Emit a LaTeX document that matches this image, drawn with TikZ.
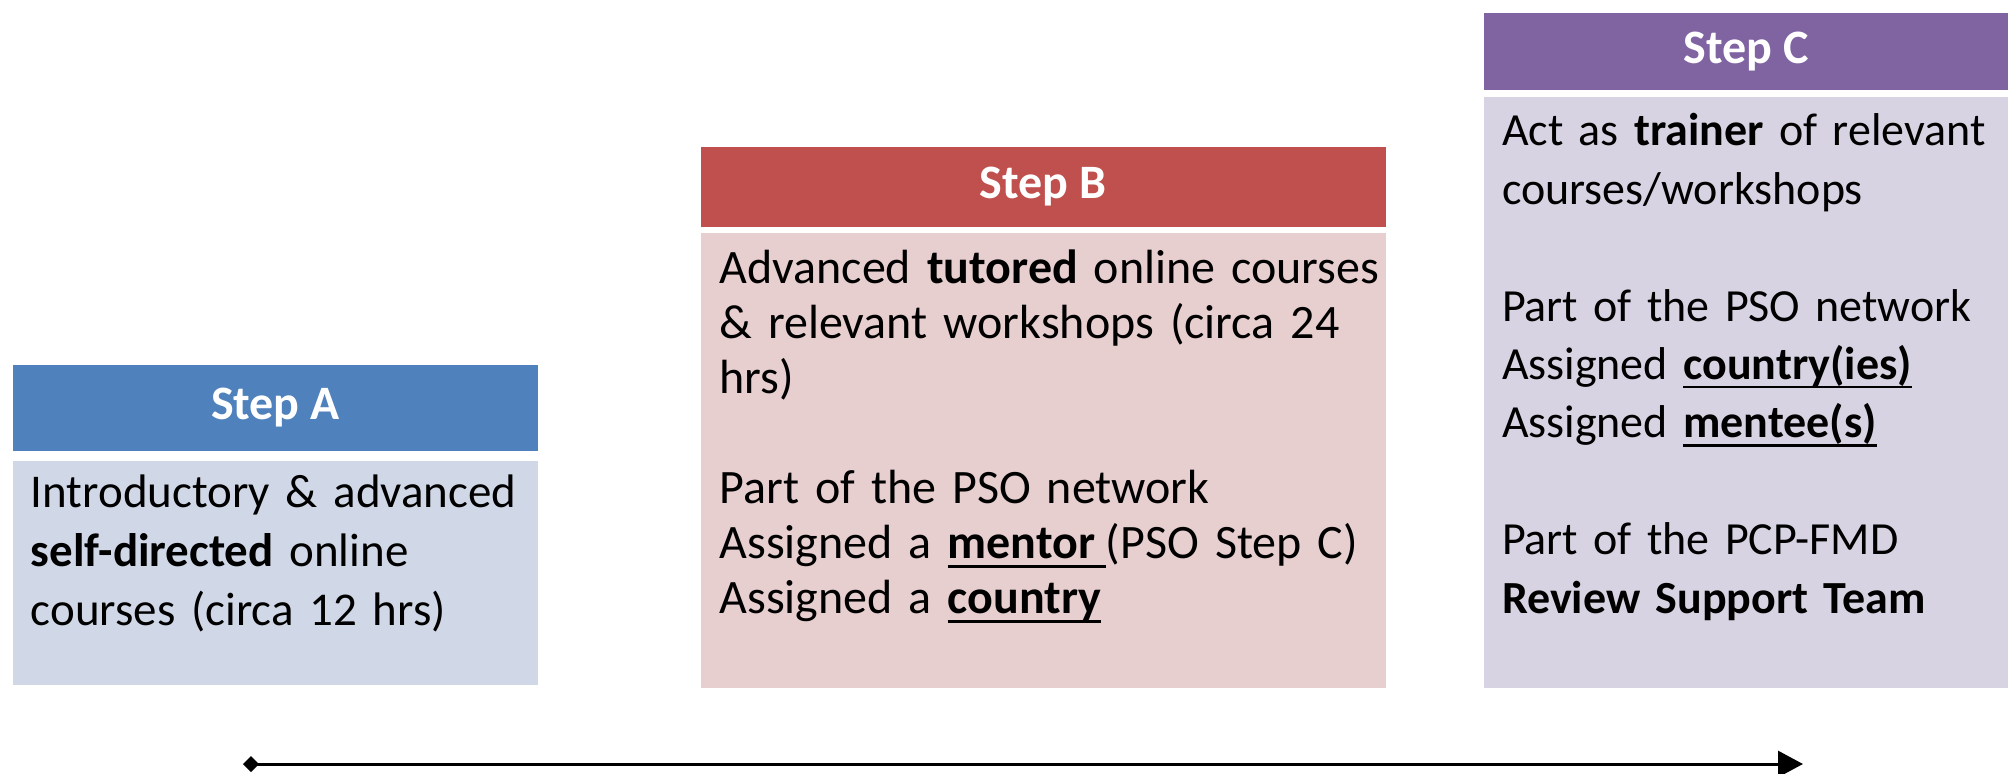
\documentclass[tikz,border=0pt]{standalone}
\usepackage{fontspec}
\setmainfont{Carlito}
\usetikzlibrary{arrows.meta}
\definecolor{stepAhead}{HTML}{4F81BD}
\definecolor{stepAbody}{HTML}{D0D8E7}
\definecolor{stepBhead}{HTML}{C0504D}
\definecolor{stepBbody}{HTML}{E7CECF}
\definecolor{stepChead}{HTML}{8064A2}
\definecolor{stepCbody}{HTML}{D8D3E2}
\newcommand{\ulbold}[1]{\leavevmode\setbox0\hbox{\textbf{#1}}%
  \rlap{\rule[-4.5pt]{\wd0}{1.2pt}}\box0}
\tikzset{%
    every node/.style={inner sep=0pt, outer sep=0pt},
    head/.style={rectangle, anchor=north west, text=white,
    	font=\fontsize{24}{29}\selectfont\bfseries},
    panel/.style={rectangle, anchor=north west},
    blurb/.style={anchor=north west, align=left, text width=340pt},
    timeline/.style={line width=1.5pt,
    	{Diamond[length=8pt,width=8pt]}-{Triangle[length=12.5pt,width=13pt]}}
}

\begin{document}
\begin{tikzpicture}[x=0.5pt, y=-0.5pt]
  \useasboundingbox (0,0) rectangle (2008,773);

  \node (headA) [head, fill=stepAhead, minimum width=262.5pt, minimum height=43pt] at (12.8,365) {Step A};
  \node (panelA) [panel, fill=stepAbody, minimum width=262.5pt, minimum height=112pt] at (12.8,461) {};
  \node (textA) [blurb, font=\fontsize{23.5}{29.5}\selectfont] at ([xshift=9pt, yshift=-6.8pt]panelA.north west)
    {Introductory \& advanced\\ \textbf{self-directed} online\\ courses (circa 12 hrs)};

  \node (headB) [head, fill=stepBhead, minimum width=342.5pt, minimum height=40pt] at (700.5,147) {Step B};
  \node (panelB) [panel, fill=stepBbody, minimum width=342.5pt, minimum height=227.5pt] at (700.5,233) {};
  \node (textB) [blurb, font=\fontsize{24}{27.5}\selectfont] at ([xshift=9.5pt, yshift=-8.5pt]panelB.north west)
    {Advanced \textbf{tutored} online courses\\ \& relevant workshops (circa 24\\ hrs)\\[27.5pt]
     Part of the PSO network\\ Assigned a \ulbold{mentor\hspace{.22em}}(PSO Step C)\\ Assigned a \ulbold{country}};

  \node (headC) [head, fill=stepChead, minimum width=262pt, minimum height=38.5pt] at (1484,12.8) {Step C};
  \node (panelC) [panel, fill=stepCbody, minimum width=262pt, minimum height=295.5pt] at (1484,97) {};
  \node (textC) [blurb, font=\fontsize{23}{29.2}\selectfont] at ([xshift=9pt, yshift=-8.3pt]panelC.north west)
    {Act as \textbf{trainer} of relevant\\ courses/workshops\\[29.2pt]
     Part of the PSO network\\ Assigned \ulbold{country(ies)}\\ Assigned \ulbold{mentee(s)}\\[29.2pt]
     Part of the PCP-FMD\\ \textbf{Review Support Team}};

  \coordinate (start) at (243,764);
  \coordinate (finish) at (1803,764);
  \draw [timeline] (start) -- (finish);
\end{tikzpicture}
\end{document}
